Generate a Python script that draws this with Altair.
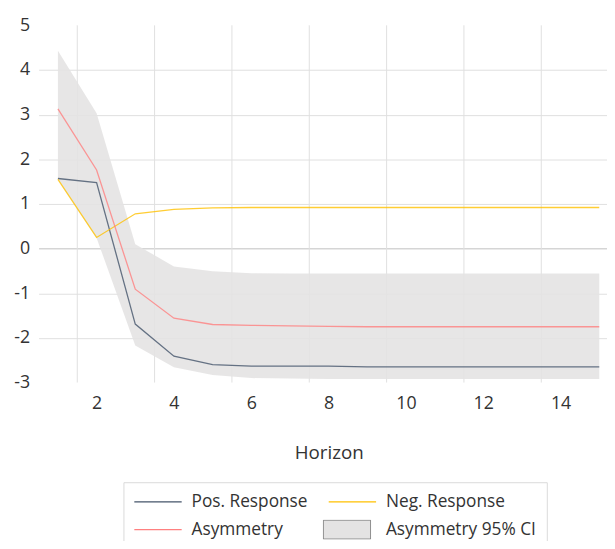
import altair as alt
import pandas as pd

# ---- data ----
horizon = list(range(1, 16))
pos_response = [1.57, 1.48, -1.69, -2.41, -2.60, -2.63, -2.63, -2.63,
                -2.65, -2.65, -2.65, -2.65, -2.65, -2.65, -2.65]
neg_response = [1.55, 0.25, 0.78, 0.88, 0.91, 0.92, 0.92, 0.92,
                0.92, 0.92, 0.92, 0.92, 0.92, 0.92, 0.92]
asymmetry = [3.13, 1.76, -0.91, -1.56, -1.70, -1.72, -1.73, -1.74,
             -1.75, -1.75, -1.75, -1.75, -1.75, -1.75, -1.75]
ci_upper = [4.43, 3.03, 0.10, -0.40, -0.51, -0.55, -0.56, -0.56,
            -0.56, -0.56, -0.56, -0.56, -0.56, -0.56, -0.56]
ci_lower = [1.55, 0.24, -2.17, -2.66, -2.83, -2.90, -2.91, -2.92,
            -2.92, -2.92, -2.92, -2.92, -2.92, -2.92, -2.92]

# legend order is column-major in a 2-column legend: Pos, Asym | Neg, CI
series_names = ["Pos. Response", "Asymmetry", "Neg. Response", "Asymmetry 95% CI"]
line_colors = ["#44546a", "#ff8080", "#ffc000", "transparent"]
ci_fill = "#e4e3e3"
ci_legend_fill = "#e7e6e6"
ci_legend_stroke = "#7f7f7f"

x_ticks = [2, 4, 6, 8, 10, 12, 14]
x_grid = [1.5, 3.5, 5.5, 7.5, 9.5, 11.5, 13.5]
y_ticks = [-3, -2, -1, 0, 1, 2, 3, 4, 5]

FONT = "Open Sans"
TEXT = "#333333"

# ---- tables ----
lines_df = pd.DataFrame({
    "horizon": horizon * 3,
    "value": pos_response + neg_response + asymmetry,
    "series": ["Pos. Response"] * 15 + ["Neg. Response"] * 15 + ["Asymmetry"] * 15,
})
band_df = pd.DataFrame({
    "horizon": horizon,
    "lower": ci_lower,
    "upper": ci_upper,
    "band": ["Asymmetry 95% CI"] * 15,
})
grid_df = pd.DataFrame({"horizon": x_grid})

x_scale = alt.Scale(domain=[0.5, 15.2], nice=False, zero=False)
y_scale = alt.Scale(domain=[-3, 5], nice=False, zero=False)

x_axis = alt.Axis(
    values=x_ticks, grid=False, ticks=False, tickSize=0, domain=False,
    labelFontSize=18, labelPadding=12, labelColor=TEXT, labelFont=FONT,
    title="Horizon", titleFontSize=19, titleFontWeight="normal", titleColor=TEXT,
    titleFont=FONT, titleX=294, titleY=77, titleBaseline="alphabetic",
)
y_axis = alt.Axis(
    values=y_ticks, grid=True, labelExpr="'' + datum.value",
    gridColor={"condition": {"test": "datum.value === 0", "value": "#bfbfbf"}, "value": "#e0e0e0"},
    gridOpacity={"condition": {"test": "datum.value === -3 || datum.value === 5", "value": 0}, "value": 1},
    gridWidth=1, ticks=False, tickSize=0, domain=False,
    labelFontSize=18, labelPadding=9, labelColor=TEXT, labelFont=FONT, title=None,
)

# main legend (frame + all four labels); CI symbol is drawn by the fill legend on top
line_legend = alt.Legend(
    title=None, orient="none", legendX=86, legendY=463,
    columns=2, columnPadding=20, rowPadding=8, clipHeight=20,
    symbolType="stroke", symbolSize=2304, symbolStrokeWidth=1.2, symbolOpacity=1,
    labelFontSize=17.5, labelOffset=9, labelColor=TEXT, labelFont=FONT,
    padding=10, strokeColor="#d9d9d9", fillColor="white", zindex=1,
)
band_legend = alt.Legend(
    title=None, orient="none", legendX=288, legendY=501,
    clipHeight=20, padding=0,
    symbolType="M-1,-0.4H1V0.4H-1Z", symbolSize=2304,
    symbolStrokeColor=ci_legend_stroke, symbolStrokeWidth=1, symbolOpacity=1,
    symbolFillColor=ci_legend_fill,
    labelFontSize=1, labelOffset=0, labelOpacity=0, labelExpr="''", zindex=2,
)

vgrid = alt.Chart(grid_df).mark_rule(color="#e0e0e0", strokeWidth=1).encode(
    x=alt.X("horizon:Q", scale=x_scale, axis=x_axis),
)

band = alt.Chart(band_df).mark_area(opacity=0.88).encode(
    x=alt.X("horizon:Q", scale=x_scale, axis=x_axis),
    y=alt.Y("lower:Q", scale=y_scale, axis=y_axis),
    y2="upper:Q",
    fill=alt.Fill("band:N", scale=alt.Scale(domain=["Asymmetry 95% CI"], range=[ci_fill]),
                  legend=band_legend),
)

lines = alt.Chart(lines_df).mark_line(strokeWidth=1.3, opacity=0.8).encode(
    x=alt.X("horizon:Q", scale=x_scale, axis=x_axis),
    y=alt.Y("value:Q", scale=y_scale, axis=y_axis),
    color=alt.Color("series:N", scale=alt.Scale(domain=series_names, range=line_colors),
                    legend=line_legend),
    detail="series:N",
)

chart = alt.layer(vgrid, band, lines).properties(
    width=576, height=362,
    autosize=alt.AutoSizeParams(type="none"),
    padding={"left": 31, "top": 14, "right": 0, "bottom": 157},
).configure(font=FONT).configure_view(stroke=None)

chart.save("out.html", embed_options={"renderer": "svg", "actions": False})
